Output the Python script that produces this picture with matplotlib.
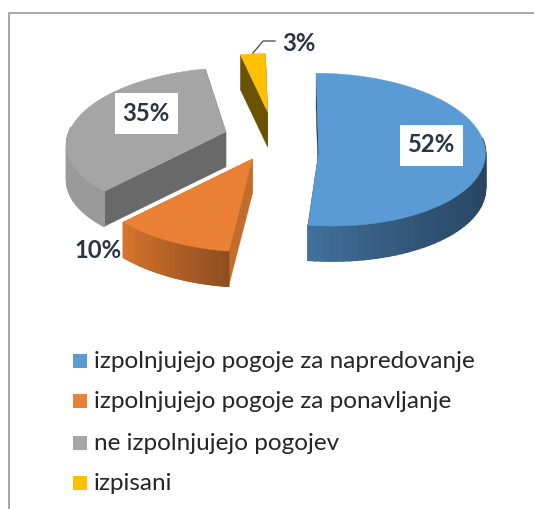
import numpy as np
import matplotlib
matplotlib.use('Agg')
from matplotlib import pyplot as plt

plt.rcParams['font.family'] = ['Lato', 'DejaVu Sans']

categories = ['izpolnjujejo pogoje za napredovanje',
              'izpolnjujejo pogoje za ponavljanje',
              'ne izpolnjujejo pogojev',
              'izpisani']
values = [52, 10, 35, 3]
percent_labels = ['52%', '10%', '35%', '3%']

top_colors = ['#5B9BD5', '#E98033', '#A5A5A5', '#FFC000']
wall_colors = ['#1f3a54', '#C46C2C', '#696969', '#6B5200']
# outer rim shade at the start and end of each slice's sweep
rim_start = ['#254059', '#8E4F20', '#999999', '#6B5200']
rim_end = ['#41709C', '#D8742C', '#A0A0A0', '#6B5200']
rim_power = [4, 1, 1, 1]

# pie geometry in pixels
cx, cy = 274, 136
rx, ry = 162, 74
persp = 0.16
explode = 0.30
depth = 35
# small per-slice nudges, the original has its own 3d projection
slice_rx = [0.98, 1, 1, 1]
slice_rot = [0, 0, -2, -2]
slice_dx = [1, 6, 2, 0]
slice_dy = [0, -2, 0, -3]
apex_dx = [-4, -6, -4, -2]
apex_dy = [15, 4, 2, 0]

def project(u, v, scale=1):
    s = 1 / (1 + persp * v)
    return cx + rx * scale * u * s, cy - ry * v * s

def hex_rgb(c):
    return np.array(matplotlib.colors.to_rgb(c))

fig = plt.figure(figsize=(5.34, 5.09), dpi=100)
ax = fig.add_axes([0, 0, 1, 1])
ax.set_xlim(0, 534)
ax.set_ylim(509, 0)
ax.axis('off')

# frame of the pasted chart
ax.plot([8.5, 8.5, 534], [509, 12.5, 12.5], color='#A0A0A0', lw=1.3, zorder=1)

# angles clockwise from the top
edges = np.cumsum([0] + values) / sum(values) * 2 * np.pi
order = [3, 2, 1, 0]
for i in order:
    a0, a1 = edges[i], edges[i + 1]
    mid = (a0 + a1) / 2
    ou, ov = explode * np.sin(mid), explode * np.cos(mid)
    ang = np.linspace(a0, a1, 90) + np.radians(slice_rot[i])
    x, y = project(ou + np.sin(ang), ov + np.cos(ang), slice_rx[i])
    x = x + slice_dx[i]
    y = y + slice_dy[i]
    yb = y + depth
    px, py = project(ou, ov, slice_rx[i])
    px += slice_dx[i] + apex_dx[i]
    py += slice_dy[i] + apex_dy[i]
    z = 3 + order.index(i) * 3
    # radial walls
    for k in (0, -1):
        ax.fill([px, x[k], x[k], px], [py, y[k], yb[k], py + depth],
                color=wall_colors[i], lw=0.3, zorder=z)
    # outer rim, only the part facing the viewer
    c0, c1 = hex_rgb(rim_start[i]), hex_rgb(rim_end[i])
    for k in range(len(ang) - 1):
        if np.cos(ang[k]) < 0.02:
            t = (k / (len(ang) - 2)) ** rim_power[i]
            ax.fill([x[k], x[k + 1], x[k + 1], x[k]],
                    [y[k], y[k + 1], yb[k + 1], yb[k]],
                    color=c0 + (c1 - c0) * t, lw=1.2, zorder=z + 1)
    ax.fill(np.r_[px, x], np.r_[py, y], color=top_colors[i], lw=0.3, zorder=z + 2)

# data labels
text_color = '#2B3445'
label_xy = [(431, 145), (98, 251), (146, 113), (299, 43)]
boxed = [True, False, True, False]
for lab, (lx, ly), b in zip(percent_labels, label_xy, boxed):
    if b:
        ax.fill([lx - 31.5, lx + 31.5, lx + 31.5, lx - 31.5],
                [ly - 20.5, ly - 20.5, ly + 20.5, ly + 20.5], color='white', lw=0, zorder=29)
    ax.text(lx, ly, lab, ha='center', va='center', fontsize=17.2, fontweight='bold',
            color=text_color, zorder=30)

# leader line of the small slice
ax.plot([253, 263, 275], [53, 41, 41], color='#555555', lw=1, zorder=30)

# legend
legend_y = [361, 401, 443, 483]
for name, col, ly in zip(categories, top_colors, legend_y):
    ax.fill([73, 87, 87, 73], [ly - 7, ly - 7, ly + 7, ly + 7], color=col, lw=0, zorder=30)
    ax.text(94, ly, name, ha='left', va='center', fontsize=17.5, color='#262626', zorder=30)

plt.savefig('out.png', dpi=100)
